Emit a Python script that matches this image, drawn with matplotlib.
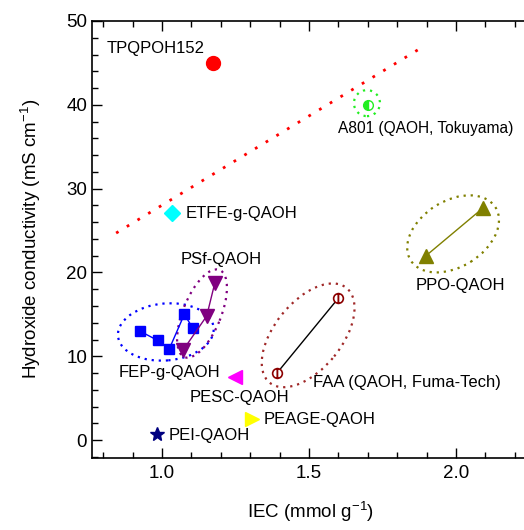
import matplotlib
matplotlib.use('Agg')
import matplotlib.pyplot as plt
import matplotlib.transforms as mtransforms
from matplotlib.patches import Ellipse
from matplotlib.ticker import MultipleLocator

plt.rcParams['font.family'] = ['Liberation Sans', 'DejaVu Sans']
plt.rcParams['mathtext.default'] = 'regular'

# membrane data: IEC (mmol/g) and hydroxide conductivity (mS/cm)
tpq_iec, tpq_cond = [1.173], [45.0]
a801_iec, a801_cond = [1.70], [40.0]
etfe_iec, etfe_cond = [1.034], [27.1]
ppo_iec, ppo_cond = [1.898, 2.092], [22.0, 27.7]
faa_iec, faa_cond = [1.391, 1.599], [8.0, 16.9]
pesc_iec, pesc_cond = [1.248], [7.5]
peage_iec, peage_cond = [1.306], [2.5]
pei_iec, pei_cond = [0.983], [0.7]
fep_iec = [0.925, 0.985, 1.025, 1.076, 1.104]
fep_cond = [13.0, 11.9, 10.9, 15.0, 13.4]
psf_iec, psf_cond = [1.073, 1.152, 1.18], [10.8, 14.8, 18.8]
trend_iec, trend_cond = [0.844, 1.891], [24.7, 47.0]

fig = plt.figure(figsize=(5.24, 5.30), dpi=100)
ax = fig.add_axes([0.1756, 0.1364, 0.835, 0.824])

ax.plot(trend_iec, trend_cond, ls=(0, (1, 3.5)), color='red', lw=2)

ax.plot(tpq_iec, tpq_cond, 'o', color='red', ms=10)
ax.plot(a801_iec, a801_cond, 'o', color='#22ee22', mfc='#22ee22', mfcalt='white',
        fillstyle='left', ms=7, mew=1)
ax.plot(etfe_iec, etfe_cond, 'D', color='cyan', ms=8)
ax.plot(ppo_iec, ppo_cond, '^-', color='#808000', ms=10, lw=1)
ax.plot(faa_iec, faa_cond, '-', color='black', lw=1)
ax.plot(faa_iec, faa_cond, 'o', color='#8b0000', mfc='white', mfcalt='white',
        fillstyle='left', ms=7, mew=1.2)
ax.plot(pesc_iec, pesc_cond, '<', color='magenta', ms=10)
ax.plot(peage_iec, peage_cond, '>', color='yellow', ms=10)
ax.plot(pei_iec, pei_cond, '*', color='#000080', ms=10)
ax.plot(fep_iec, fep_cond, 's-', color='blue', ms=7, lw=1)
ax.plot(psf_iec, psf_cond, 'v-', color='purple', ms=10, lw=1)

# dotted group outlines, sizes given in pixels
def outline(cx, cy, w, h, angle, color):
    tr = fig.dpi_scale_trans + mtransforms.ScaledTranslation(cx, cy, ax.transData)
    e = Ellipse((0, 0), w / 100, h / 100, angle=angle, transform=tr,
                fill=False, ec=color, ls=(0, (1, 2.2)), lw=1.6)
    ax.add_patch(e)

outline(1.013, 12.9, 96, 57, 5, 'blue')
outline(1.136, 15.1, 94, 38, 68, 'purple')
outline(1.497, 12.5, 122, 67, 51, '#a02828')
outline(1.99, 24.6, 100, 66, 32, '#808000')
outline(1.697, 40.2, 26, 26, 0, '#22ee22')

fs = 12
ax.text(0.813, 46.7, 'TPQPOH152', fontsize=fs, va='center')
ax.text(1.600, 37.2, 'A801 (QAOH, Tokuyama)', fontsize=11.2, va='center')
ax.text(1.082, 27.0, 'ETFE-g-QAOH', fontsize=fs, va='center')
ax.text(1.861, 18.4, 'PPO-QAOH', fontsize=fs, va='center')
ax.text(1.065, 21.5, 'PSf-QAOH', fontsize=fs, va='center')
ax.text(0.854, 8.1, 'FEP-g-QAOH', fontsize=fs, va='center')
ax.text(1.514, 6.9, 'FAA (QAOH, Fuma-Tech)', fontsize=fs, va='center')
ax.text(1.095, 5.1, 'PESC-QAOH', fontsize=fs, va='center')
ax.text(1.344, 2.4, 'PEAGE-QAOH', fontsize=fs, va='center')
ax.text(1.024, 0.5, 'PEI-QAOH', fontsize=fs, va='center')

ax.set_xlim(0.762, 2.25)
ax.set_ylim(-2.1, 50)
ax.xaxis.set_major_locator(MultipleLocator(0.5))
ax.xaxis.set_minor_locator(MultipleLocator(0.1))
ax.yaxis.set_major_locator(MultipleLocator(10))
ax.yaxis.set_minor_locator(MultipleLocator(2))
ax.xaxis.set_major_formatter(matplotlib.ticker.FormatStrFormatter('%.1f'))
ax.tick_params(which='both', direction='in', top=True, right=False, labelsize=13.5)
ax.tick_params(which='major', length=7, width=1)
ax.tick_params(which='minor', length=4, width=1)
ax.tick_params(axis='x', pad=5)
for s in ax.spines.values():
    s.set_linewidth(1.2)

ax.set_xlabel('IEC (mmol g$^{-1}$)', fontsize=13.5, labelpad=13)
ax.set_ylabel('Hydroxide conductivity (mS cm$^{-1}$)', fontsize=13.5, labelpad=17)

fig.savefig('out.png', dpi=100)
